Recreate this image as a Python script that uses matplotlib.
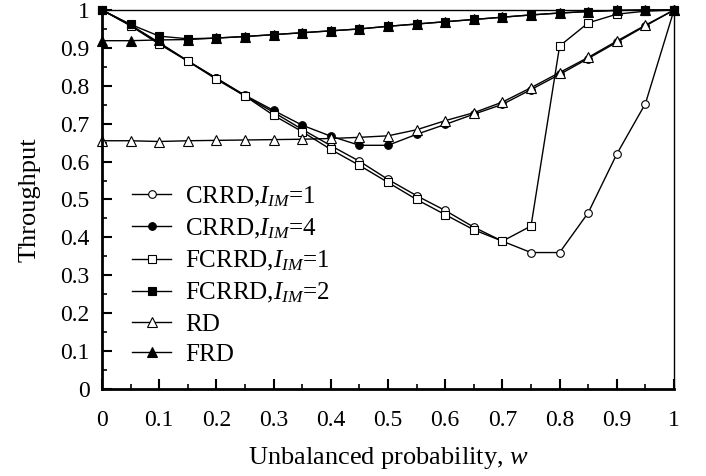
import numpy as np
import matplotlib
matplotlib.use('Agg')
import matplotlib.pyplot as plt
from matplotlib.ticker import MultipleLocator

plt.rcParams['font.family'] = 'Liberation Serif'
plt.rcParams['mathtext.fontset'] = 'custom'
plt.rcParams['mathtext.rm'] = 'Liberation Serif'
plt.rcParams['mathtext.it'] = 'Liberation Serif:italic'

# Data
w = [0.0, 0.05, 0.1, 0.15, 0.2, 0.25, 0.3, 0.35, 0.4, 0.45, 0.5,
     0.55, 0.6, 0.65, 0.7, 0.75, 0.8, 0.85, 0.9, 0.95, 1.0]
crrd_1 = [1.0, 0.96, 0.912, 0.865, 0.82, 0.773, 0.73, 0.685, 0.642, 0.601, 0.553,
          0.51, 0.471, 0.427, 0.39, 0.36, 0.36, 0.465, 0.62, 0.753, 1.0]
crrd_4 = [1.0, 0.96, 0.914, 0.866, 0.82, 0.775, 0.735, 0.696, 0.667, 0.643, 0.643,
          0.672, 0.698, 0.725, 0.751, 0.79, 0.83, 0.872, 0.915, 0.958, 1.0]
fcrrd_1 = [1.0, 0.958, 0.91, 0.865, 0.817, 0.773, 0.722, 0.679, 0.632, 0.59, 0.545,
           0.50, 0.46, 0.42, 0.39, 0.43, 0.905, 0.966, 0.989, 0.997, 1.0]
fcrrd_2 = [1.0, 0.962, 0.931, 0.924, 0.926, 0.93, 0.935, 0.94, 0.945, 0.95, 0.957,
           0.963, 0.969, 0.975, 0.981, 0.987, 0.992, 0.996, 0.999, 1.0, 1.0]
rd = [0.655, 0.655, 0.653, 0.655, 0.656, 0.657, 0.658, 0.659, 0.661, 0.664, 0.668,
      0.684, 0.708, 0.729, 0.757, 0.795, 0.835, 0.875, 0.918, 0.96, 1.0]
frd = [0.919, 0.919, 0.921, 0.922, 0.926, 0.93, 0.935, 0.94, 0.945, 0.95, 0.957,
       0.963, 0.969, 0.975, 0.981, 0.987, 0.992, 0.996, 0.999, 1.0, 1.0]

labels = [r'CRRD,$I_{IM}$=1', r'CRRD,$I_{IM}$=4', r'FCRRD,$I_{IM}$=1',
          r'FCRRD,$I_{IM}$=2', 'RD', 'FRD']

fig = plt.figure(figsize=(7.06, 4.76), dpi=100)
ax = fig.add_axes([0.1445, 0.1828, 0.8102, 0.7962])

series = [crrd_1, crrd_4, fcrrd_1, fcrrd_2, rd, frd]
markers = ['o', 'o', 's', 's', '^', '^']
fills = ['white', 'black', 'white', 'black', 'white', 'black']
sizes = [5.5, 5.5, 5.5, 5.5, 6.5, 6.5]
for ys, m, fc, ms, lab in zip(series, markers, fills, sizes, labels):
    ax.plot(w, ys, color='black', lw=1.0, marker=m, markersize=ms,
            markerfacecolor=fc, markeredgecolor='black', markeredgewidth=0.8,
            label=lab, clip_on=False)


def fmt(v, p):
    if abs(v) < 1e-9 or abs(v - 1) < 1e-9:
        return f'{v:.0f}'
    return f'{v:.1f}'


ax.set_xlim(0, 1)
ax.set_ylim(0, 1)
ax.xaxis.set_major_locator(MultipleLocator(0.1))
ax.xaxis.set_minor_locator(MultipleLocator(0.05))
ax.yaxis.set_major_locator(MultipleLocator(0.1))
ax.yaxis.set_minor_locator(MultipleLocator(0.05))
ax.xaxis.set_major_formatter(plt.FuncFormatter(fmt))
ax.yaxis.set_major_formatter(plt.FuncFormatter(fmt))

ax.tick_params(which='major', direction='in', length=7, width=1.5, labelsize=17)
ax.tick_params(which='minor', direction='in', length=3.5, width=1.2)
ax.tick_params(axis='y', which='major', pad=9)
ax.tick_params(axis='x', which='major', pad=15)
ax.tick_params(top=False, right=False, which='both')

for s in ['left', 'bottom']:
    ax.spines[s].set_linewidth(2.0)
for s in ['top', 'right']:
    ax.spines[s].set_linewidth(1.0)

ax.set_xlabel('Unbalanced probability, $w$', fontsize=19, labelpad=10)
ax.set_ylabel('Throughput', fontsize=19, labelpad=14)

ax.legend(loc='upper left', bbox_to_anchor=(0.053, 0.54), frameon=False,
          fontsize=18, borderpad=0, borderaxespad=0, labelspacing=0.32,
          handlelength=1.55, handletextpad=0.55)

fig.savefig('out.png', dpi=100)
